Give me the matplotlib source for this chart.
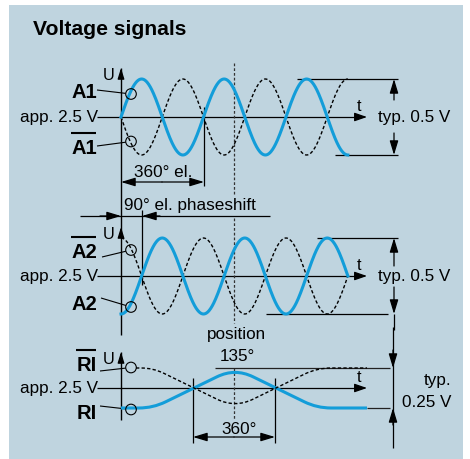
import numpy as np
import matplotlib.pyplot as plt
from matplotlib.patches import Rectangle, Circle, FancyArrowPatch, PathPatch
from matplotlib.path import Path

plt.rcParams['font.family'] = ['Liberation Sans', 'DejaVu Sans']

# --- signal data -------------------------------------------------------
cycles = 2.75                 # periods shown on tracks A1 / A2
a1_phase_deg = 0              # A1 starts rising at the axis
a2_phase_deg = -90            # A2 lags A1 by 90 deg el.
ri_x = [0, 32, 114, 196, 246]         # reference pulse corners (px right of axis)
ri_level = [-1, -1, 1, -1, -1]        # normalised RI level at the corners
ri_pos_deg = 135                      # position of the reference mark

track_names = ['A1', 'A2', 'RI']
offset_label = 'app. 2.5 V'
amp_labels = ['typ. 0.5 V', 'typ. 0.5 V', 'typ.\n0.25 V']

# --- layout (pixels) ---------------------------------------------------
W, H = 470, 459
X0 = 121                      # U axis
PERIOD_PX = 82.5
base = [117, 276, 388]        # 2.5 V line per track
amp = [38, 38, 20]
BLUE = '#139dd9'
BG = '#bfd4df'
FS = 12.3

fig = plt.figure(figsize=(W / 100, H / 100), dpi=100)
ax = fig.add_axes([0, 0, 1, 1])
ax.set_xlim(0, W)
ax.set_ylim(H, 0)
ax.axis('off')
ax.add_patch(Rectangle((9, 5), 454, 454, color=BG, lw=0))


def arrow(p1, p2, style='-|>', hl=8.0, hw=2.4, lw=0.9, color='black'):
    ax.add_patch(FancyArrowPatch(p1, p2, arrowstyle=f'{style},head_length={hl},head_width={hw}',
                                 mutation_scale=1, lw=lw, color=color,
                                 shrinkA=0, shrinkB=0, zorder=4))


def line(xs, ys, **kw):
    kw.setdefault('color', 'black')
    kw.setdefault('lw', 0.9)
    ax.plot(xs, ys, solid_capstyle='butt', **kw)


def rounded_path(xs, ys, radius):
    verts = [(xs[0], ys[0])]
    codes = [Path.MOVETO]
    for i in range(1, len(xs) - 1):
        p = np.array([xs[i], ys[i]], float)
        a = np.array([xs[i - 1], ys[i - 1]], float)
        b = np.array([xs[i + 1], ys[i + 1]], float)
        da = (a - p) / np.hypot(*(a - p))
        db = (b - p) / np.hypot(*(b - p))
        r = radius[i]
        verts += [tuple(p + r * da), tuple(p), tuple(p + r * db)]
        codes += [Path.LINETO, Path.CURVE3, Path.CURVE3]
    verts.append((xs[-1], ys[-1]))
    codes.append(Path.LINETO)
    return Path(verts, codes)


def label_bold(text, y_base, bar=False):
    ax.text(97, y_base, text, ha='right', va='baseline', fontsize=14.5, fontweight='bold')
    if bar:
        w = 26 if text != 'RI' else 21
        line([97 - w, 96], [y_base - 21, y_base - 21], lw=1.5)


ax.text(33, 35, 'Voltage signals', fontsize=15.2, fontweight='bold', va='baseline')

# axes and 2.5 V lines
line([X0, X0], [68, 335], lw=1.0)
line([X0, X0], [352, 420], lw=1.0)
for k, y in enumerate(base):
    line([97, 362], [y, y])
    arrow((355, y), (367, y), hl=7.5, hw=2.6)
    ax.text(98, y + 5, offset_label, ha='right', va='baseline', fontsize=FS)
    ax.text(357, y - 6, 't', fontsize=11.7, va='baseline')
for yt in [68, 227, 352]:
    arrow((X0, yt + 10), (X0, yt), hl=6.5, hw=2.0)
    ax.text(115, yt + 12, 'U', ha='right', va='baseline', fontsize=11.7)

# dotted position marker
for y1, y2 in [(63, 195), (218, 323), (368, 420)]:
    line([234, 234], [y1, y2], color='#333333', lw=0.9, ls=(0, (2.2, 1.6)))

# sine tracks
deg = np.linspace(0, 360 * cycles, 600)
xs = X0 + deg / 360 * PERIOD_PX
for k, ph in enumerate([a1_phase_deg, a2_phase_deg]):
    s = np.sin(np.radians(deg + ph))
    ax.plot(xs, base[k] + amp[k] * s, color='black', lw=1.0, ls=(0, (2.4, 1.6)), zorder=3)
    ax.plot(xs, base[k] - amp[k] * s, color=BLUE, lw=2.2, zorder=3)

# reference track
rx = [X0 + v for v in ri_x]
ry = [base[2] - amp[2] * v for v in ri_level]
ax.add_patch(PathPatch(rounded_path(rx, ry, [0, 14, 20, 14, 0]), fill=False,
                       ec=BLUE, lw=2.2, zorder=3))
ryb = [base[2] + amp[2] * v for v in ri_level]
rxb = [136] + rx[1:]
ax.add_patch(PathPatch(rounded_path(rxb, ryb, [0, 12, 20, 14, 0]), fill=False,
                       ec='black', lw=1.0, ls=(0, (2.4, 1.6)), zorder=3))

# labels with circles
for (cy, ty, name, bar, lead) in [
        (94, 98, 'A1', False, (97, 90)),
        (141.5, 154, 'A1', True, (97, 146)),
        (250, 258, 'A2', True, (102, 257)),
        (307, 310, 'A2', False, (101, 298)),
        (367.5, 371, 'RI', True, (100, 371)),
        (409.5, 419, 'RI', False, (100, 406))]:
    label_bold(name, ty, bar)
    ax.add_patch(Circle((131, cy), 5.3, fill=False, ec='black', lw=0.8, zorder=5))
    dx, dy = 131 - lead[0], cy - lead[1]
    d = np.hypot(dx, dy)
    line([lead[0], 131 - 5.3 * dx / d], [lead[1], cy - 5.3 * dy / d], lw=0.8)

# amplitude references
for k, (xa, ya, yb, s1, s2) in enumerate([(297, 335, 398, 100, 133), (317, 266, 388, 266, 287)]):
    top, bot = base[k] - amp[k], base[k] + amp[k]
    line([xa, 398], [top, top])
    line([ya, yb], [bot, bot])
    arrow((394, s1), (394, top), hl=8.6, hw=2.6)
    arrow((394, s2), (394, bot), hl=8.6, hw=2.6)
    ax.text(378, base[k] + 5, amp_labels[k], fontsize=FS, va='baseline')
line([394, 394], [314, 330])

top, bot = base[2] - amp[2], base[2] + amp[2]
line([215, 390], [top, top], color='#222222')
line([367, 390], [bot, bot], color='#222222')
line([393, 393], [327, 448])
arrow((393, 350), (393, top), hl=8.6, hw=2.6)
arrow((393, 425), (393, bot), hl=8.6, hw=2.6)
ax.text(451, 385, 'typ.', fontsize=FS, ha='right', va='baseline')
ax.text(451, 407, '0.25 V', fontsize=FS, ha='right', va='baseline')

# 360 deg el. on A1
line([204, 204], [107, 186])
arrow((162, 182), (X0, 182), hl=8.6, hw=2.6)
arrow((162, 182), (204, 182), hl=8.6, hw=2.6)
ax.text(134, 177, '360° el.', fontsize=FS, va='baseline')

# 90 deg phase shift
line([80, 270], [216, 216])
line([142, 142], [210, 285])
arrow((100, 216), (X0, 216), hl=8.6, hw=2.6)
arrow((160, 216), (142, 216), hl=8.6, hw=2.6)
ax.text(124, 210, '90° el. phaseshift', fontsize=FS, va='baseline')

# reference mark annotations
line([193, 193], [378, 443])
line([275, 275], [378, 443])
arrow((234, 437), (193, 437), hl=8.6, hw=2.6)
arrow((234, 437), (275, 437), hl=8.6, hw=2.6)
ax.text(236, 339, 'position', fontsize=FS, ha='center', va='baseline')
ax.text(237, 361, f'{ri_pos_deg}°', fontsize=FS, ha='center', va='baseline')
ax.text(239, 434, '360°', fontsize=FS, ha='center', va='baseline')

fig.savefig('out.png', dpi=100, facecolor='white')
